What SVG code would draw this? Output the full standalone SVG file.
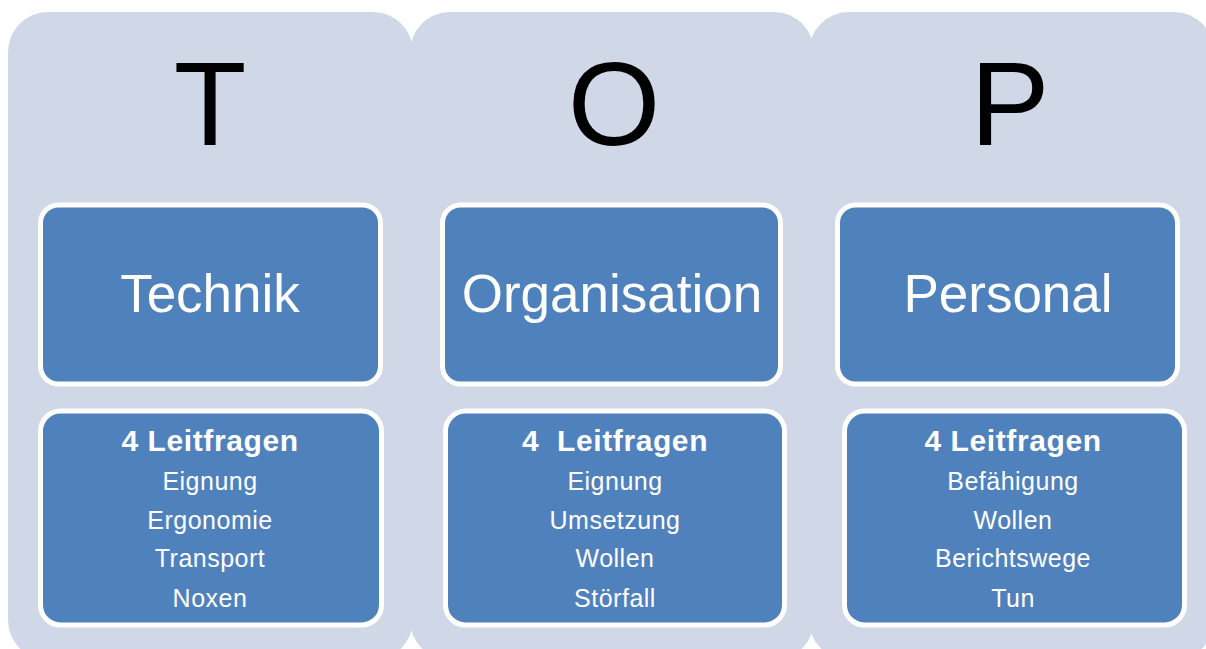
<svg xmlns="http://www.w3.org/2000/svg" width="1206" height="649" viewBox="0 0 1206 649">
  <style>
    .col { fill: #D0D8E8; }
    .box { fill: #4F81BD; stroke: #FFFFFF; stroke-width: 5; }
    .big { font-family: "Liberation Sans", Arial, sans-serif; font-size: 119px; fill: #000000; text-anchor: middle; }
    .title { font-family: "Liberation Sans", Arial, sans-serif; font-size: 53px; fill: #FFFFFF; text-anchor: middle; }
    .head { font-family: "Liberation Sans", Arial, sans-serif; font-size: 30px; letter-spacing: 0.6px; font-weight: bold; fill: #FFFFFF; text-anchor: middle; white-space: pre; }
    .item { font-family: "Liberation Sans", Arial, sans-serif; font-size: 25px; letter-spacing: 0.5px; fill: #FFFFFF; text-anchor: middle; }
  </style>
  <rect width="1206" height="649" fill="#FFFFFF"/>

  <!-- background columns -->
  <g id="columns">
    <rect class="col" x="8" y="12" width="405" height="648" rx="40" ry="40"/>
    <rect class="col" x="410" y="12" width="404" height="648" rx="40" ry="40"/>
    <rect class="col" x="809" y="12" width="405" height="648" rx="40" ry="40"/>
  </g>

  <!-- T: Technik -->
  <g id="technik">
    <text class="big" x="210" y="145">T</text>
    <rect class="box" x="40.5" y="205" width="340" height="179" rx="18" ry="18"/>
    <text class="title" x="210" y="312">Technik</text>
    <rect class="box" x="40.5" y="411" width="341" height="214" rx="20" ry="20"/>
    <text class="head" x="210" y="451">4 Leitfragen</text>
    <text class="item" x="210" y="490">Eignung</text>
    <text class="item" x="210" y="529">Ergonomie</text>
    <text class="item" x="210" y="567">Transport</text>
    <text class="item" x="210" y="607">Noxen</text>
  </g>

  <!-- O: Organisation -->
  <g id="organisation">
    <text class="big" x="614" y="145">O</text>
    <rect class="box" x="442.5" y="205" width="338" height="179" rx="18" ry="18"/>
    <text class="title" x="612" y="312">Organisation</text>
    <rect class="box" x="445.5" y="411" width="339" height="214" rx="20" ry="20"/>
    <text class="head" x="615" y="451">4  Leitfragen</text>
    <text class="item" x="615" y="490">Eignung</text>
    <text class="item" x="615" y="529">Umsetzung</text>
    <text class="item" x="615" y="567">Wollen</text>
    <text class="item" x="615" y="607">Störfall</text>
  </g>

  <!-- P: Personal -->
  <g id="personal">
    <text class="big" x="1010" y="145">P</text>
    <rect class="box" x="837.5" y="205" width="340" height="179" rx="18" ry="18"/>
    <text class="title" x="1008" y="312">Personal</text>
    <rect class="box" x="844.5" y="411" width="340" height="214" rx="20" ry="20"/>
    <text class="head" x="1013" y="451">4 Leitfragen</text>
    <text class="item" x="1013" y="490">Befähigung</text>
    <text class="item" x="1013" y="529">Wollen</text>
    <text class="item" x="1013" y="567">Berichtswege</text>
    <text class="item" x="1013" y="607">Tun</text>
  </g>

  <!-- no connectors in this figure -->
  <g id="connectors"/>
</svg>
